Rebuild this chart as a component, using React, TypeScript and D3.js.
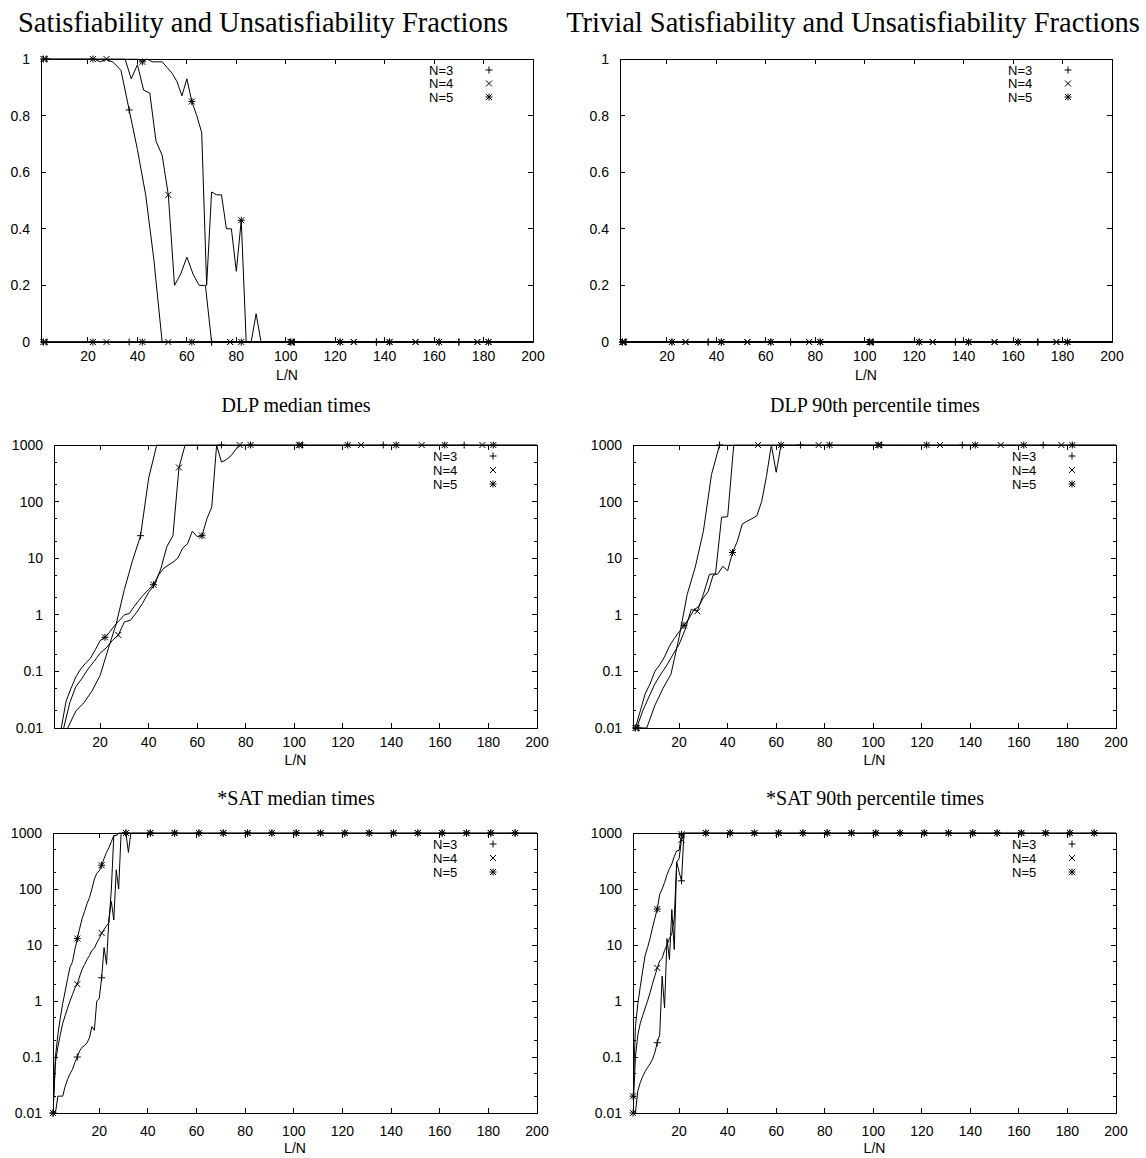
import React from "react";
import * as d3 from "d3";

// ---------------- data ----------------
const N_VALUES = [3, 4, 5];
const CLAUSE_STEP = 10; // L grows by 10 between samples, x = L/N
const LN_MIN = 1;
const LN_MAX = 200;
const MARK_EVERY = 10;

const X_TICKS = [20, 40, 60, 80, 100, 120, 140, 160, 180, 200];
const FRACTION_TICKS = [0, 0.2, 0.4, 0.6, 0.8, 1];
const FRACTION_LABELS = ["0", "0.2", "0.4", "0.6", "0.8", "1"];
const TIME_TICKS = [0.01, 0.1, 1, 10, 100, 1000];
const TIME_LABELS = ["0.01", "0.1", "1", "10", "100", "1000"];
const LEGEND_LABELS = ["N=3", "N=4", "N=5"];
const TITLES = [
  "Satisfiability and Unsatisfiability Fractions",
  "Trivial Satisfiability and Unsatisfiability Fractions",
  "DLP median times",
  "DLP 90th percentile times",
  "*SAT median times",
  "*SAT 90th percentile times",
];
const X_LABEL = "L/N";

// plateau values the curves settle on after the measured part
const FRACTION_ZERO = 0;
const TIMEOUT = 1000;

// fraction satisfiable, sampled at L/N = 10k/N
const SAT_FRAC_N3 = [1, 1, 1, 1, 1, 1, 1, 1, 0.99, 0.96, 0.82, 0.68, 0.52, 0.29, 0];
const SAT_FRAC_N4 = [
  1, 1, 1, 1, 1, 1, 1, 1, 1, 0.99, 1, 1, 1, 1, 0.93, 0.98, 0.89, 0.88, 0.71, 0.66,
  0.52, 0.2, 0.24, 0.3, 0.24, 0.2, 0.2, 0,
];
const SAT_FRAC_N5 = [
  1, 1, 1, 1, 1, 1, 1, 1, 1, 1, 1, 1, 1, 1, 1, 1, 1, 1, 1, 1,
  0.99, 1, 0.99, 0.99, 0.99, 0.97, 0.95, 0.92, 0.87, 0.93, 0.85, 0.8, 0.74, 0.2, 0.53,
  0.52, 0.52, 0.4, 0.4, 0.25, 0.43, 0, 0, 0.1, 0,
];
// fraction proven unsatisfiable (all N)
const UNSAT_FRAC = [0];
// trivially satisfiable / unsatisfiable fractions (all N)
const TRIV_SAT_FRAC = [0];
const TRIV_UNSAT_FRAC = [0];

// DLP median times (s); null = zero time (not drawable on log axis)
const DLP_MED_N3 = [null, 0.01, 0.02, 0.028, 0.045, 0.085, 0.25, 0.7, 2.8, 9, 25, 260, 1000];
const DLP_MED_N4 = [
  null, 0.01, 0.028, 0.054, 0.075, 0.11, 0.15, 0.21, 0.26, 0.35, 0.44, 0.75, 0.8, 1.1,
  1.6, 2.5, 3.4, 6.5, 16, 25, 400, 1000,
];
const DLP_MED_N5 = [
  null, 0.01, 0.03, 0.05, 0.08, 0.11, 0.14, 0.17, 0.24, 0.35, 0.4, 0.5, 0.65, 0.8, 1.0,
  1.05, 1.4, 1.8, 2.3, 2.8, 3.4, 5.0, 6.5, 7.5, 8.5, 10, 15, 18, 30, 24, 25, 50, 80,
  1000, 500, 550, 650, 850, 1000,
];

// DLP 90th percentile times
const DLP_P90_N3 = [0.01, 0.01, 0.025, 0.05, 0.09, 0.4, 2.3, 7, 30, 300, 1000];
const DLP_P90_N4 = [
  0.01, 0.02, 0.035, 0.06, 0.09, 0.13, 0.2, 0.3, 0.55, 1.25, 1.15, 2.3, 5.2, 5.3, 53,
  54, 1000,
];
const DLP_P90_N5 = [
  0.01, 0.02, 0.04, 0.06, 0.1, 0.13, 0.18, 0.28, 0.38, 0.5, 0.65, 0.85, 1.2, 1.4, 2.0,
  2.6, 5.0, 5.3, 7.2, 6.0, 12.6, 20, 40, 45, 50, 56, 100, 280, 1000, 330, 1000,
];

// *SAT median times, sampled at L/N = 1, 2, 3, ...
const SSAT_MED_N3 = [
  0.01, 0.01, 0.02, 0.02, 0.02, 0.03, 0.04, 0.05, 0.06, 0.08, 0.1, 0.13, 0.15, 0.16,
  0.18, 0.22, 0.35, 0.3, 1.0, 1.1, 2.6, 9, 4.5, 30, 60, 28, 220, 100, 1000, 1000, 1000,
  450, 1000,
];
const SSAT_MED_N4 = [
  0.01, 0.08, 0.15, 0.25, 0.4, 0.55, 0.75, 1.0, 1.3, 1.7, 2.0, 2.8, 3.7, 4.5, 5.5, 6.5,
  8, 8.7, 11, 13, 16.4, 19, 22, 25, 100, 900, 900, 1000,
];
const SSAT_MED_N5 = [
  0.01, 0.1, 0.25, 0.5, 0.9, 1.5, 2.5, 4, 5, 8.3, 13, 20, 30, 40, 55, 70, 100, 150, 190,
  210, 266, 350, 450, 550, 700, 900, 900, 1000,
];

// *SAT 90th percentile times
const SSAT_P90_N3 = [
  0.01, 0.01, 0.025, 0.035, 0.045, 0.055, 0.065, 0.075, 0.09, 0.12, 0.18, 0.25, 2.8,
  0.75, 13, 5.5, 43, 8.3, 300, 200, 140, 1000,
];
const SSAT_P90_N4 = [
  0.01, 0.1, 0.25, 0.4, 0.55, 0.75, 1.0, 1.4, 2.0, 2.8, 3.9, 5.2, 5.8, 8, 10, 13, 16, 30,
  300, 350, 760, 1000,
];
const SSAT_P90_N5 = [
  0.02, 0.35, 0.9, 1.8, 3.5, 6.5, 9, 13, 20, 30, 44, 80, 100, 130, 180, 230, 280, 380,
  480, 490, 950, 1000,
];

// ---------------- types / helpers ----------------
type Grid = "ln" | "unit";
type Mk = "plus" | "cross" | "star";
type Series = { grid: Grid; n: number; head: (number | null)[]; tail: number; marker: Mk };
type Pt = { x: number; v: number | null; i: number };
type Frame = { x0: number; x1: number; y0: number; y1: number };
type PanelDef = {
  title: string;
  titleSize: number;
  log: boolean;
  series: Series[];
  frame: Frame;
  titleX: number;
  titleY: number;
  tickY: number;
  labelY: number;
  legendDy: number;
};

const MARKS: Mk[] = ["plus", "cross", "star"];

function mk(grid: Grid, idx: number, head: (number | null)[], tail: number): Series {
  return { grid, n: N_VALUES[idx], head, tail, marker: MARKS[idx] };
}

function samples(s: Series): Pt[] {
  const out: Pt[] = [];
  for (let i = 0; ; i++) {
    const x = s.grid === "ln" ? (CLAUSE_STEP * (i + 1)) / s.n : i + 1;
    if (x > LN_MAX + 1e-6) break;
    out.push({ x, v: i < s.head.length ? s.head[i] : s.tail, i });
  }
  return out;
}

function markerPath(kind: Mk, x: number, y: number): string {
  const s = 3.5;
  const c = 3;
  const plus = `M${x - s},${y}H${x + s}M${x},${y - s}V${y + s}`;
  const cross = `M${x - c},${y - c}L${x + c},${y + c}M${x - c},${y + c}L${x + c},${y - c}`;
  if (kind === "plus") return plus;
  if (kind === "cross") return cross;
  return plus + cross;
}

const PANELS: PanelDef[] = [
  {
    title: TITLES[0],
    titleSize: 28.5,
    log: false,
    series: [
      mk("ln", 0, SAT_FRAC_N3, FRACTION_ZERO),
      mk("ln", 1, SAT_FRAC_N4, FRACTION_ZERO),
      mk("ln", 2, SAT_FRAC_N5, FRACTION_ZERO),
      mk("ln", 0, UNSAT_FRAC, FRACTION_ZERO),
      mk("ln", 1, UNSAT_FRAC, FRACTION_ZERO),
      mk("ln", 2, UNSAT_FRAC, FRACTION_ZERO),
    ],
    frame: { x0: 41, x1: 533, y0: 59, y1: 342 },
    titleX: 263,
    titleY: 32,
    tickY: 360.5,
    labelY: 380,
    legendDy: 13.5,
  },
  {
    title: TITLES[1],
    titleSize: 28.5,
    log: false,
    series: [
      mk("ln", 0, TRIV_SAT_FRAC, FRACTION_ZERO),
      mk("ln", 1, TRIV_SAT_FRAC, FRACTION_ZERO),
      mk("ln", 2, TRIV_SAT_FRAC, FRACTION_ZERO),
      mk("ln", 0, TRIV_UNSAT_FRAC, FRACTION_ZERO),
      mk("ln", 1, TRIV_UNSAT_FRAC, FRACTION_ZERO),
      mk("ln", 2, TRIV_UNSAT_FRAC, FRACTION_ZERO),
    ],
    frame: { x0: 620, x1: 1112, y0: 59, y1: 342 },
    titleX: 853,
    titleY: 32,
    tickY: 360.5,
    labelY: 380,
    legendDy: 13.5,
  },
  {
    title: TITLES[2],
    titleSize: 20,
    log: true,
    series: [
      mk("ln", 0, DLP_MED_N3, TIMEOUT),
      mk("ln", 1, DLP_MED_N4, TIMEOUT),
      mk("ln", 2, DLP_MED_N5, TIMEOUT),
    ],
    frame: { x0: 54, x1: 537, y0: 445, y1: 728 },
    titleX: 296,
    titleY: 412,
    tickY: 747,
    labelY: 765,
    legendDy: 14,
  },
  {
    title: TITLES[3],
    titleSize: 20,
    log: true,
    series: [
      mk("ln", 0, DLP_P90_N3, TIMEOUT),
      mk("ln", 1, DLP_P90_N4, TIMEOUT),
      mk("ln", 2, DLP_P90_N5, TIMEOUT),
    ],
    frame: { x0: 633, x1: 1116, y0: 445, y1: 728 },
    titleX: 875,
    titleY: 412,
    tickY: 747,
    labelY: 765,
    legendDy: 14,
  },
  {
    title: TITLES[4],
    titleSize: 20,
    log: true,
    series: [
      mk("unit", 0, SSAT_MED_N3, TIMEOUT),
      mk("unit", 1, SSAT_MED_N4, TIMEOUT),
      mk("unit", 2, SSAT_MED_N5, TIMEOUT),
    ],
    frame: { x0: 53, x1: 537, y0: 833, y1: 1113 },
    titleX: 296,
    titleY: 805,
    tickY: 1136,
    labelY: 1153,
    legendDy: 14,
  },
  {
    title: TITLES[5],
    titleSize: 20,
    log: true,
    series: [
      mk("unit", 0, SSAT_P90_N3, TIMEOUT),
      mk("unit", 1, SSAT_P90_N4, TIMEOUT),
      mk("unit", 2, SSAT_P90_N5, TIMEOUT),
    ],
    frame: { x0: 633, x1: 1116, y0: 833, y1: 1113 },
    titleX: 875,
    titleY: 805,
    tickY: 1136,
    labelY: 1153,
    legendDy: 14,
  },
];

const SANS = "'Liberation Sans', Arial, Helvetica, sans-serif";
const SERIF = "'Liberation Serif', 'Times New Roman', Times, serif";

function Panel({ p, idx }: { p: PanelDef; idx: number }) {
  const { x0, x1, y0, y1 } = p.frame;
  const xs = d3.scaleLinear().domain([LN_MIN, LN_MAX]).range([x0, x1]);
  const ys: (v: number) => number = p.log
    ? d3.scaleLog().domain([0.01, 1000]).range([y1, y0])
    : d3.scaleLinear().domain([0, 1]).range([y1, y0]);
  const yTicks = p.log ? TIME_TICKS : FRACTION_TICKS;
  const yLabels = p.log ? TIME_LABELS : FRACTION_LABELS;
  const minor: number[] = [];
  if (p.log) {
    TIME_TICKS.slice(0, -1).forEach((b) => {
      minor.push(b * 2, b * 5);
    });
  }
  const line = d3
    .line<Pt>()
    .defined((d) => d.v != null && (!p.log || (d.v as number) > 0))
    .x((d) => xs(d.x))
    .y((d) => ys(d.v as number));
  const clipId = `clip-${idx}`;
  const T = 5;
  const t = 3;
  const legendTextX = x1 - 104;
  const legendMarkX = x1 - 44;
  const legendY0 = y0 + 11;
  return (
    <g>
      <defs>
        <clipPath id={clipId}>
          <rect x={x0} y={y0 - 0.5} width={x1 - x0} height={y1 - y0 + 1} />
        </clipPath>
      </defs>
      <text
        x={p.titleX}
        y={p.titleY}
        textAnchor="middle"
        fontFamily={SERIF}
        fontSize={p.titleSize}
        fill="#000"
      >
        {p.title}
      </text>
      {/* ticks */}
      <g stroke="#000" strokeWidth={1} shapeRendering="crispEdges">
        {X_TICKS.map((v) => (
          <g key={`x${v}`}>
            <line x1={xs(v)} x2={xs(v)} y1={y1} y2={y1 - T} />
            <line x1={xs(v)} x2={xs(v)} y1={y0} y2={y0 + T} />
          </g>
        ))}
        {yTicks.map((v) => (
          <g key={`y${v}`}>
            <line x1={x0} x2={x0 + T} y1={ys(v)} y2={ys(v)} />
            <line x1={x1} x2={x1 - T} y1={ys(v)} y2={ys(v)} />
          </g>
        ))}
        {minor.map((v) => (
          <g key={`m${v}`}>
            <line x1={x0} x2={x0 + t} y1={ys(v)} y2={ys(v)} />
            <line x1={x1} x2={x1 - t} y1={ys(v)} y2={ys(v)} />
          </g>
        ))}
        <rect x={x0} y={y0} width={x1 - x0} height={y1 - y0} fill="none" />
      </g>
      {/* tick labels */}
      <g fontFamily={SANS} fontSize={14} fill="#000">
        {X_TICKS.map((v) => (
          <text key={`xl${v}`} x={xs(v)} y={p.tickY} textAnchor="middle">
            {String(v)}
          </text>
        ))}
        {yTicks.map((v, k) => (
          <text key={`yl${v}`} x={x0 - 11} y={ys(v) + 5} textAnchor="end">
            {yLabels[k]}
          </text>
        ))}
        <text x={(x0 + x1) / 2} y={p.labelY} textAnchor="middle">
          {X_LABEL}
        </text>
      </g>
      {/* curves */}
      <g clipPath={`url(#${clipId})`} fill="none" stroke="#000" strokeWidth={1}>
        {p.series.map((s, k) => {
          const pts = samples(s);
          return <path key={`c${k}`} d={line(pts) || ""} />;
        })}
      </g>
      {/* point markers */}
      <g fill="none" stroke="#000" strokeWidth={1}>
        {p.series.map((s, k) => {
          const pts = samples(s).filter(
            (d) =>
              d.i % MARK_EVERY === 0 &&
              d.v != null &&
              (!p.log || ((d.v as number) >= 0.01 && (d.v as number) <= 1000))
          );
          const d = pts.map((q) => markerPath(s.marker, xs(q.x), ys(q.v as number))).join("");
          return <path key={`p${k}`} d={d} />;
        })}
      </g>
      {/* legend */}
      <g fontFamily={SANS} fontSize={13} fill="#000">
        {LEGEND_LABELS.map((lab, k) => (
          <g key={lab}>
            <text x={legendTextX} y={legendY0 + k * p.legendDy + 4.5}>
              {lab}
            </text>
            <path
              d={markerPath(MARKS[k], legendMarkX, legendY0 + k * p.legendDy)}
              stroke="#000"
              fill="none"
            />
          </g>
        ))}
      </g>
    </g>
  );
}

export default function App() {
  return (
    <svg
      width={1146}
      height={1158}
      viewBox="0 0 1146 1158"
      style={{ position: "absolute", left: 0, top: 0, background: "#fff" }}
    >
      <rect x={0} y={0} width={1146} height={1158} fill="#fff" />
      {PANELS.map((p, i) => (
        <Panel key={i} p={p} idx={i} />
      ))}
    </svg>
  );
}
